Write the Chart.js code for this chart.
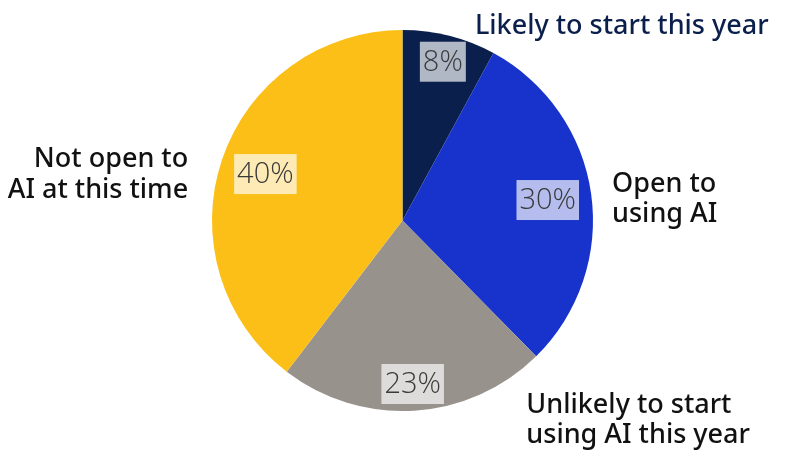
<!DOCTYPE html>
<html>
<head>
<meta charset="utf-8">
<script src="https://cdn.jsdelivr.net/npm/chart.js@4"></script>
<style>
  html, body { margin: 0; padding: 0; background: #fff; }
  #wrap { width: 797px; height: 450px; }
</style>
</head>
<body>
<div id="wrap"><canvas id="aiPie" width="797" height="450"></canvas></div>
<script>
// Attitudes toward starting to use AI
const categories = ['Likely to start this year', 'Open to using AI', 'Unlikely to start using AI this year', 'Not open to AI at this time'];
const shares = [8, 30, 23, 40];
const sliceColors = ['#0b1f4c', '#1733cb', '#98928c', '#fbbf17'];

// how the outside labels break into lines
const labelLines = [
    ['Likely to start this year'],
    ['Open to', 'using AI'],
    ['Unlikely to start', 'using AI this year'],
    ['Not open to', 'AI at this time']
];
const labelColors = ['#0b1f4c', '#111', '#111', '#111'];

// percent badge distance from centre, as a share of the radius
const badgeRadius = [0.86, 0.77, 0.86, 0.76];

// outside label anchor, relative to pie centre in radius units
const labelAnchor = [
    { dx: 0.38, dy: -1.02, align: 'left' },
    { dx: 1.10, dy: -0.19, align: 'left' },
    { dx: 0.65, dy: 0.97, align: 'left' },
    { dx: -1.125, dy: -0.32, align: 'right' }
];

const pieLabels = {
    id: 'pieLabels',
    afterDatasetsDraw(chart) {
        const ctx = chart.ctx;
        const meta = chart.getDatasetMeta(0);
        ctx.save();
        meta.data.forEach((arc, i) => {
            const { x, y, startAngle, endAngle, outerRadius } = arc.getProps(['x', 'y', 'startAngle', 'endAngle', 'outerRadius'], true);
            const mid = (startAngle + endAngle) / 2;
            const r = outerRadius * badgeRadius[i];
            const bx = x + Math.cos(mid) * r;
            const by = y + Math.sin(mid) * r;

            // percent badge
            const txt = shares[i] + '%';
            ctx.font = '300 29px "Open Sans", sans-serif';
            ctx.textAlign = 'center';
            ctx.textBaseline = 'middle';
            const w = ctx.measureText(txt).width + 6;
            const h = 40;
            ctx.fillStyle = 'rgba(255,255,255,0.68)';
            ctx.fillRect(bx - w / 2, by - h / 2, w, h);
            ctx.fillStyle = '#3a3a3a';
            ctx.fillText(txt, bx, by + 1);

            // category label
            const a = labelAnchor[i];
            const lx = x + a.dx * outerRadius;
            const ly = y + a.dy * outerRadius;
            ctx.font = '500 27px "Noto Sans", sans-serif';
            ctx.fillStyle = labelColors[i];
            ctx.textAlign = a.align;
            labelLines[i].forEach((line, k) => {
                ctx.fillText(line, lx, ly + k * 30.5);
            });
        });
        ctx.restore();
    }
};

new Chart(document.getElementById('aiPie'), {
    type: 'pie',
    data: {
        labels: categories,
        datasets: [{
            data: shares,
            backgroundColor: sliceColors,
            borderWidth: 0
        }]
    },
    options: {
        responsive: false,
        animation: false,
        layout: { padding: { left: 212, right: 204, top: 30, bottom: 39 } },
        plugins: {
            legend: { display: false },
            tooltip: { enabled: false }
        }
    },
    plugins: [pieLabels]
});
</script>
</body>
</html>
